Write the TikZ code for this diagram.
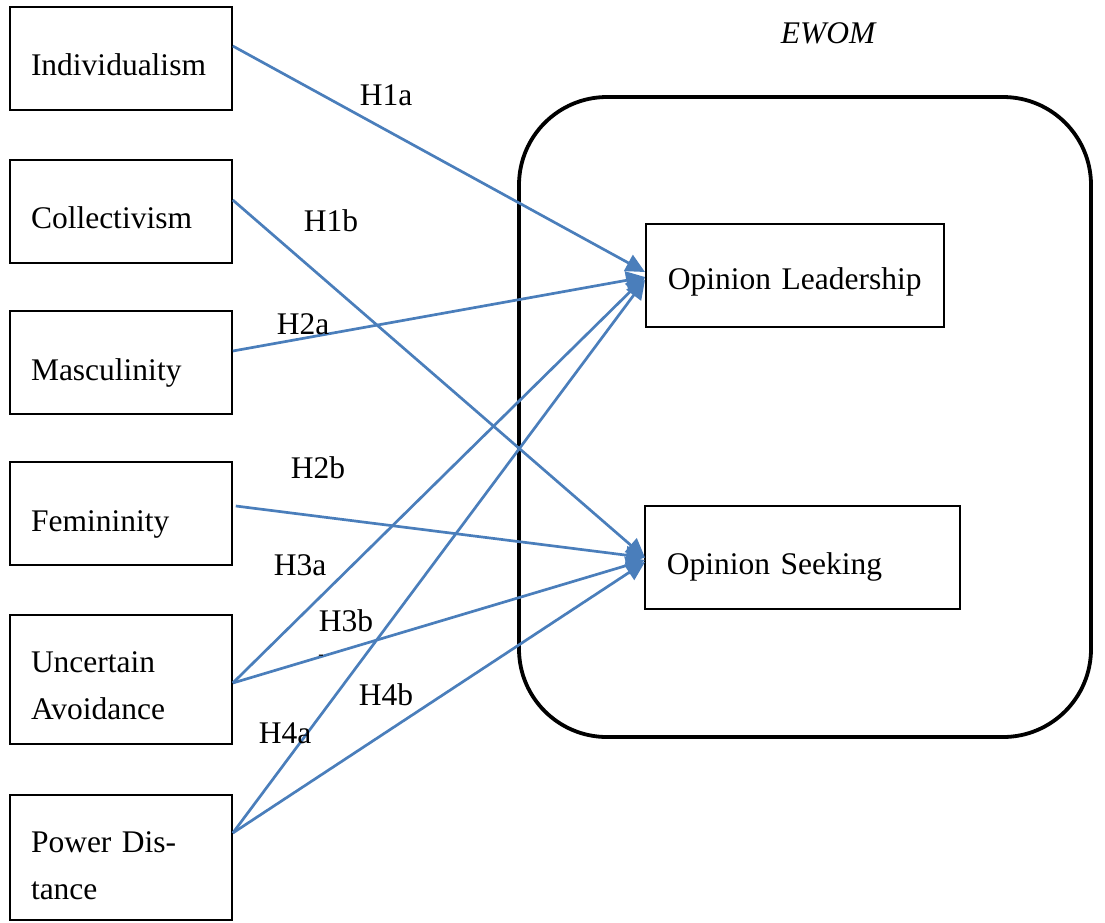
\documentclass[tikz,border=0pt]{standalone}
\usepackage{fontspec}
\setmainfont{Liberation Serif}
\usetikzlibrary{arrows.meta}
\definecolor{linkblue}{HTML}{4A7EBB}
% place a (possibly multi-line) label with its first baseline #1 above the node centre
\newcommand{\atbase}[2]{\raisebox{#1}[0pt][0pt]{\begin{tabular}[t]{@{}l@{}}#2\end{tabular}}}
\tikzset{
  txt/.style={font=\fontsize{31.5}{47}\selectfont},
  leftbox/.style={txt, draw, line width=1.6pt, minimum width=222pt, minimum height=103pt,
    text width=180pt, align=left, inner xsep=21pt, inner ysep=0pt},
  rightbox/.style={txt, draw, line width=1.6pt, minimum height=103pt, align=left,
    inner xsep=22pt, inner ysep=0pt, anchor=west},
  link/.style={linkblue, line width=2.7pt, -{Triangle[length=19pt,width=18pt]}},
  hyp/.style={txt, inner sep=0pt}
}
\begin{document}
\begin{tikzpicture}[x=1pt,y=-1pt]
\useasboundingbox (0,0) rectangle (1105,922);

% EWOM frame
\node (frame) [draw, line width=3.8pt, rounded corners=88pt, minimum width=572pt, minimum height=640pt]
  at (805,417) {};
\node (ewom) [txt, font=\fontsize{31.5}{47}\selectfont\itshape] at (828,33) {EWOM};

% cultural dimensions
\node (ind)  [leftbox] at (121,58.5)  {\atbase{-16.5pt}{Individualism}};
\node (col)  [leftbox] at (121,211.5) {\atbase{-17pt}{Collectivism}};
\node (mas)  [leftbox] at (121,362.5) {\atbase{-18pt}{Masculinity}};
\node (fem)  [leftbox] at (121,513.5) {\atbase{-17.5pt}{Femininity}};
\node (ua)   [leftbox, minimum height=129pt] at (121,679.5) {\atbase{7.5pt}{Uncertain\\Avoidance}};
\node (pd)   [leftbox, minimum height=125pt] at (121,857.5) {\atbase{5.5pt}{Power Dis-\\tance}};

% EWOM constructs
\node (ol) [rightbox, minimum width=298pt, text width=254pt] at (645,275.5) {\atbase{-13.5pt}{Opinion Leadership}};
\node (os) [rightbox, minimum width=315pt, text width=271pt] at (644,557.5) {\atbase{-16.5pt}{Opinion Seeking}};

% hypotheses
\draw[link] ([yshift=12.5pt]ind.east) -- ([yshift=3.5pt]ol.west);
\draw[link] ([yshift=11.5pt]col.east) -- ([xshift=1pt]os.west);
\draw[link] ([yshift=11.5pt]mas.east) -- ([yshift=-1.5pt]ol.west);
\draw[link] ([xshift=3pt,yshift=7.5pt]fem.east) -- ([xshift=1pt]os.west);
\draw[link] ([yshift=-3.5pt]ua.east) -- ([yshift=-1.5pt]ol.west);
\draw[link] ([yshift=-3.5pt]ua.east) -- ([xshift=1pt,yshift=-2.5pt]os.west);
\draw[link] ([yshift=24.5pt]pd.east) -- ([yshift=-4.5pt]ol.west);
\draw[link] ([yshift=24.5pt]pd.east) -- ([xshift=1pt,yshift=-4.5pt]os.west);

\node (h1a) [hyp] at (386,95)  {H1a};
\node (h1b) [hyp] at (331,221) {H1b};
\node (h2a) [hyp] at (303,324) {H2a};
\node (h2b) [hyp] at (318,468) {H2b};
\node (h3a) [hyp] at (300,565) {H3a};
\node (h3b) [hyp] at (346,621) {H3b};
\node (h4b) [hyp] at (386,695) {H4b};
\node (h4a) [hyp] at (285,733) {H4a};
\node (dash) [font=\fontsize{16}{16}\selectfont, inner sep=0pt] at (321,657) {-};
\end{tikzpicture}
\end{document}
